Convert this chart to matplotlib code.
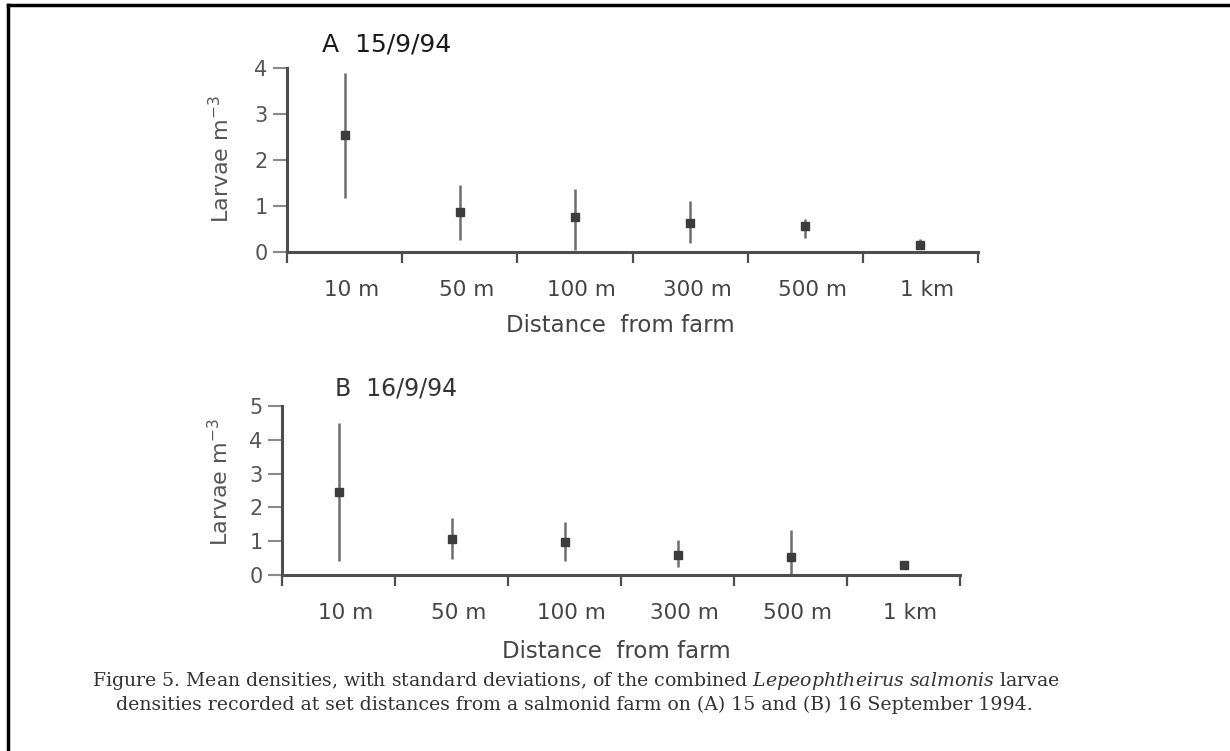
import matplotlib.pyplot as plt
from matplotlib.transforms import ScaledTranslation

plt.rcParams['font.family'] = ['DejaVu Sans']
plt.rcParams['mathtext.fontset'] = 'custom'
plt.rcParams['mathtext.rm'] = 'DejaVu Sans'
plt.rcParams['mathtext.it'] = 'DejaVu Serif:italic'

# data
distances = ['10 m', '50 m', '100 m', '300 m', '500 m', '1 km']

mean_a = [2.54, 0.87, 0.75, 0.62, 0.56, 0.16]
low_a = [1.17, 0.25, 0.05, 0.20, 0.30, 0.08]
high_a = [3.89, 1.46, 1.37, 1.10, 0.72, 0.28]

mean_b = [2.46, 1.07, 0.99, 0.60, 0.54, 0.30]
low_b = [0.41, 0.46, 0.40, 0.25, 0.0, 0.17]
high_b = [4.49, 1.70, 1.58, 1.04, 1.33, 0.41]

ink = '#4d4d4d'
W, H = 1230, 751


def fx(px):
    return px / W


def fy(py):
    return 1 - py / H


def px_axes(fig, left, right, y0, ytop):
    return fig.add_axes([fx(left), fy(y0), (right - left) / W, (y0 - ytop) / H])


def draw_panel(fig, ax, means, lows, highs, ymax):
    xs = [i + 0.5 for i in range(len(distances))]
    for x, lo, hi in zip(xs, lows, highs):
        ax.plot([x, x], [lo, hi], color='#6e6e6e', lw=1.8, solid_capstyle='butt', clip_on=False)
    ax.plot(xs, means, linestyle='none', marker='s', ms=5.5, color='#3c3c3c', clip_on=False)
    ax.set_xlim(0, len(distances))
    ax.set_ylim(0, ymax)
    ax.set_yticks(range(ymax + 1))
    ax.set_xticks(range(len(distances) + 1))
    ax.set_xticklabels([])
    ax.set_xticks(xs, minor=True)
    ax.set_xticklabels(distances, minor=True)
    ax.tick_params(axis='x', which='major', direction='out', length=8, width=1.6, color=ink)
    ax.tick_params(axis='x', which='minor', length=0, pad=20, labelsize=15.5, labelcolor='#444444')
    ax.tick_params(axis='y', direction='out', length=10, width=1.5, color='#8a8a8a',
                   pad=4, labelsize=15, labelcolor='#555555')
    # labels in the scan sit a little right of the category centres
    shift = ScaledTranslation(7 / 100, 0, fig.dpi_scale_trans)
    for lab in ax.get_xticklabels(minor=True):
        lab.set_transform(lab.get_transform() + shift)
    for side in ['top', 'right']:
        ax.spines[side].set_visible(False)
    for side in ['left', 'bottom']:
        ax.spines[side].set_color(ink)
        ax.spines[side].set_linewidth(2.2)


fig = plt.figure(figsize=(12.3, 7.51), dpi=100)

ax_a = px_axes(fig, 287, 978, 252, 68)
draw_panel(fig, ax_a, mean_a, low_a, high_a, 4)
fig.text(fx(322), fy(45), 'A  15/9/94', fontsize=18, color='#1a1a1a',
         ha='left', va='center')
fig.text(fx(221), fy(159), 'Larvae m$^{-3}$', fontsize=16, color='#555555',
         rotation=90, ha='center', va='center')
fig.text(fx(620), fy(326), 'Distance  from farm', fontsize=16.5, color='#444444',
         ha='center', va='center')

ax_b = px_axes(fig, 282, 960, 575, 406)
draw_panel(fig, ax_b, mean_b, low_b, high_b, 5)
fig.text(fx(335), fy(389), 'B  16/9/94', fontsize=17, color='#333333',
         ha='left', va='center')
fig.text(fx(220), fy(482), 'Larvae m$^{-3}$', fontsize=16, color='#555555',
         rotation=90, ha='center', va='center')
fig.text(fx(616), fy(652), 'Distance  from farm', fontsize=16.5, color='#444444',
         ha='center', va='center')

caption1 = ('Figure 5. Mean densities, with standard deviations, of the combined '
            '$\\mathit{Lepeophtheirus\\ salmonis}$ larvae')
caption2 = ('densities recorded at set distances from a salmonid farm on '
            '(A) 15 and (B) 16 September 1994.')
fig.text(fx(576), fy(681), caption1, family='DejaVu Serif', fontsize=13.6,
         color='#333333', ha='center', va='center')
fig.text(fx(574), fy(705), caption2, family='DejaVu Serif', fontsize=13.6,
         color='#333333', ha='center', va='center')

# page border of the scan: top and left edges
fig.add_artist(plt.Line2D([fx(8), 1], [fy(5), fy(5)], color='black', lw=2.5))
fig.add_artist(plt.Line2D([fx(8), fx(8)], [0, fy(5)], color='black', lw=2.5))

fig.savefig('out.png', dpi=100, facecolor='white')
